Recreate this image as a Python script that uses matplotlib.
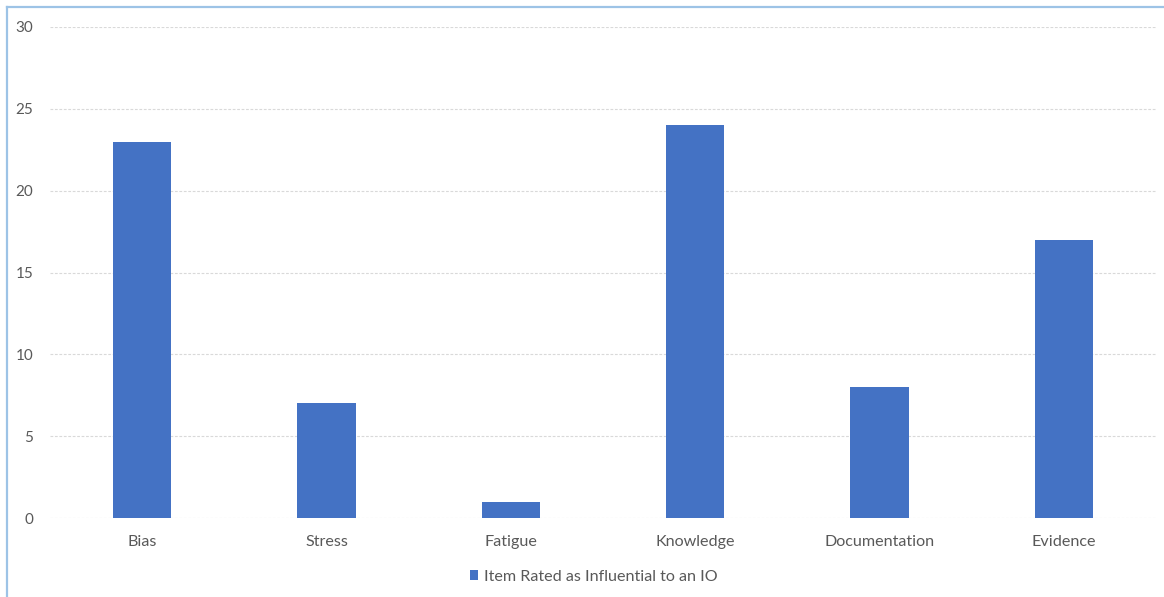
import matplotlib
matplotlib.use("Agg")
import matplotlib.pyplot as plt
from matplotlib.lines import Line2D
from matplotlib.patches import Patch

categories = ["Bias", "Stress", "Fatigue", "Knowledge", "Documentation", "Evidence"]
values = [23, 7, 1, 24, 8, 17]
series_name = "Item Rated as Influential to an IO"
yticks = [0, 5, 10, 15, 20, 25, 30]

bar_color = "#4472C4"
text_color = "#595959"
plt.rcParams["font.family"] = ["Lato", "DejaVu Sans"]

W, H = 1164, 597
fig = plt.figure(figsize=(W / 100, H / 100), dpi=100)
fig.patch.set_facecolor("white")

left, right, top, bottom = 50, 1156, 27, 518
ax = fig.add_axes([left / W, 1 - bottom / H, (right - left) / W, (bottom - top) / H])

x = list(range(len(categories)))
ax.bar(x, values, width=0.315, color=bar_color, zorder=3)
ax.set_xlim(-0.5, len(categories) - 0.5)
ax.set_ylim(0, 30)
ax.set_yticks(yticks)
ax.set_xticks(x)
ax.set_xticklabels(categories)
for s in ax.spines.values():
    s.set_visible(False)
ax.yaxis.grid(True, color="#D9D9D9", linestyle=(0, (2.5, 1.5)), linewidth=0.8, zorder=0)
ax.tick_params(axis="x", length=0, colors=text_color, labelsize=11.6, pad=12)
ax.tick_params(axis="y", length=0, colors=text_color, labelsize=11, pad=12)

handles = [Patch(facecolor=bar_color, edgecolor="none")]
fig.legend(handles, [series_name], loc="center", bbox_to_anchor=(0.51, 1 - 577 / H),
           frameon=False, fontsize=11.6, labelcolor=text_color,
           handlelength=0.55, handleheight=0.6, handletextpad=0.35)

# outer chart border
border = "#9DC3E6"
fig.add_artist(Line2D([7 / W, 1], [1 - 7 / H, 1 - 7 / H], color=border, linewidth=1.6))
fig.add_artist(Line2D([7 / W, 7 / W], [0, 1 - 7 / H], color=border, linewidth=1.6))

fig.savefig("out.png", dpi=100, facecolor="white")
